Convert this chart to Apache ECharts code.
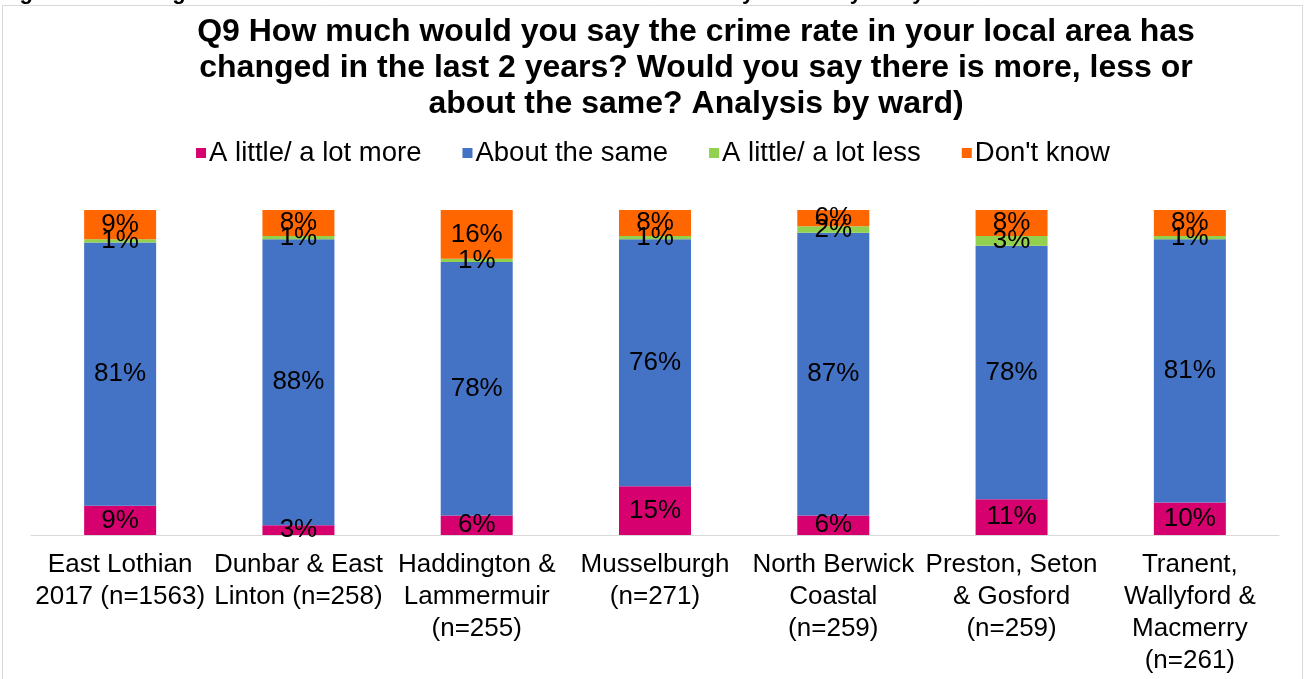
<!DOCTYPE html>
<html>
<head>
<meta charset="utf-8">
<script src="https://cdn.jsdelivr.net/npm/echarts@6/dist/echarts.min.js"></script>
<style>
  html, body { margin: 0; padding: 0; background: #fff; }
  #chart { width: 1306px; height: 679px; }
</style>
</head>
<body>
<div id="chart"></div>
<script>
// Wards surveyed (with sample size)
const wards = [
  'East Lothian\n2017 (n=1563)',
  'Dunbar & East\nLinton (n=258)',
  'Haddington &\nLammermuir\n(n=255)',
  'Musselburgh\n(n=271)',
  'North Berwick\nCoastal\n(n=259)',
  'Preston, Seton\n& Gosford\n(n=259)',
  'Tranent,\nWallyford &\nMacmerry\n(n=261)'
];

// Percentages per answer, one value per ward
const more    = [9, 3, 6, 15, 6, 11, 10];
const same    = [81, 88, 78, 76, 87, 78, 81];
const less    = [1, 1, 1, 1, 2, 3, 1];
const dontKnow = [9, 8, 16, 8, 6, 8, 8];

const seriesNames = ['A little/ a lot more', 'About the same', 'A little/ a lot less', "Don't know"];
const seriesColors = ['#d6006f', '#4472c4', '#92d050', '#ff6600'];
const seriesData = [more, same, less, dontKnow];

const FONT = '"Liberation Sans", Arial, sans-serif';

const chart = echarts.init(document.getElementById('chart'), null, { renderer: 'canvas' });

chart.setOption({
  animation: false,
  backgroundColor: '#ffffff',
  title: {
    text: 'Q9 How much would you say the crime rate in your local area has\nchanged in the last 2 years? Would you say there is more, less or\nabout the same? Analysis by ward)',
    left: 691,
    top: 9,
    textAlign: 'center',
    textStyle: {
      fontFamily: FONT,
      fontWeight: 'bold',
      fontSize: 32,
      lineHeight: 36,
      color: '#000'
    }
  },
  legend: {
    top: 134,
    left: 'center',
    itemWidth: 10,
    itemHeight: 10,
    itemGap: 41,
    icon: 'rect',
    textStyle: { fontFamily: FONT, fontSize: 27.5, color: '#000', padding: [0, 0, 0, -2] },
    data: seriesNames
  },
  graphic: [
    {
      type: 'rect',
      shape: { x: 2.5, y: 5.5, width: 1300, height: 680 },
      style: { fill: 'none', stroke: '#d9d9d9', lineWidth: 1 },
      silent: true
    },
    {
      type: 'text',
      left: 0,
      top: -18,
      style: {
        text: 'Figure 3.9: Change in the level of crime in the local area over the last 2 years analysis by ward',
        font: 'bold 22px ' + FONT,
        fill: '#000'
      },
      silent: true
    }
  ],
  grid: {
    left: 31,
    right: 27,
    top: 210,
    bottom: 144,
    containLabel: false
  },
  xAxis: {
    type: 'category',
    data: wards,
    axisTick: { show: false },
    axisLine: { lineStyle: { color: '#d9d9d9', width: 1 } },
    axisLabel: {
      interval: 0,
      fontFamily: FONT,
      fontSize: 26,
      lineHeight: 32,
      color: '#000',
      margin: 14
    }
  },
  yAxis: {
    type: 'value',
    min: 0,
    max: 100,
    show: false,
    splitLine: { show: false }
  },
  series: seriesData.map((d, i) => ({
    name: seriesNames[i],
    type: 'bar',
    stack: 'total',
    data: d,
    barWidth: 72,
    itemStyle: { color: seriesColors[i] },
    label: {
      show: true,
      position: 'inside',
      formatter: p => p.value + '%',
      fontFamily: FONT,
      fontSize: 26,
      color: '#000'
    },
    labelLayout: { hideOverlap: false }
  }))
});
</script>
</body>
</html>
